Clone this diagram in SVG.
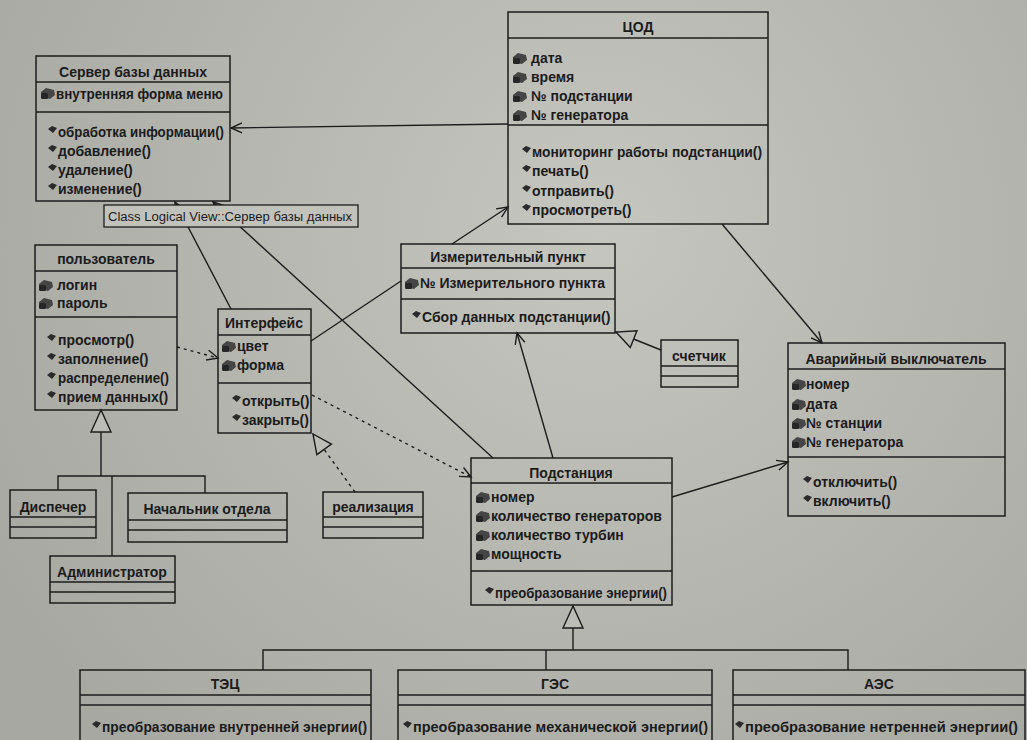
<svg xmlns="http://www.w3.org/2000/svg" xmlns:xlink="http://www.w3.org/1999/xlink" width="1027" height="740" viewBox="0 0 1027 740">
<style>
.bg{fill:url(#bgg)}
.b{fill:none;stroke:#1c1c1c;stroke-width:1.5}
.s{stroke:#1c1c1c;stroke-width:1.5}
.t{font-family:"Liberation Sans",Arial,sans-serif;font-size:14px;font-weight:bold;fill:#1b1b1b}
.c{text-anchor:middle}
.ln{fill:none;stroke:#1c1c1c;stroke-width:1.4}
.d{stroke-dasharray:3 4}
.lab{font-family:"Liberation Sans",Arial,sans-serif;font-size:12.5px;fill:#1b1b1b}
</style>
<defs>
<radialGradient id="bgg" cx="600" cy="230" r="700" gradientUnits="userSpaceOnUse">
<stop offset="0" stop-color="#c6c6c1"/>
<stop offset="1" stop-color="#a8a8a3"/>
</radialGradient>
<g id="ai"><polygon points="0,5 5,1 13,3 14,8 9,12 0,10" fill="#454545"/><rect x="0" y="6" width="7" height="6" rx="1.5" fill="#262626"/></g>
<g id="mi"><polygon points="0,3 4,0 9,2 5,7" fill="#2a2a2a"/></g>
<marker id="open" markerUnits="userSpaceOnUse" markerWidth="14" markerHeight="14" refX="12" refY="6" orient="auto" viewBox="0 0 14 12"><path d="M1,1 L12,6 L1,11" fill="none" stroke="#1c1c1c" stroke-width="1.4"/></marker>
<marker id="opens" markerUnits="userSpaceOnUse" markerWidth="14" markerHeight="14" refX="2" refY="6" orient="auto" viewBox="0 0 14 12"><path d="M13,1 L2,6 L13,11" fill="none" stroke="#1c1c1c" stroke-width="1.4"/></marker>
<marker id="tri" markerUnits="userSpaceOnUse" markerWidth="22" markerHeight="22" refX="20" refY="10" orient="auto" viewBox="0 0 22 20"><path d="M1,1 L20,10 L1,19 Z" fill="#bdbdb8" stroke="#1c1c1c" stroke-width="1.4"/></marker>
</defs>
<rect class="bg" x="0" y="0" width="1027" height="740"/>

<g id="connectors">
<line class="ln" x1="508" y1="124" x2="231" y2="128" marker-end="url(#open)"/>
<line class="ln" x1="175" y1="202" x2="231" y2="309" marker-start="url(#opens)"/>
<line class="ln" x1="213" y1="202" x2="493" y2="458" marker-start="url(#opens)"/>
<line class="ln d" x1="177" y1="347" x2="218" y2="358" marker-end="url(#open)"/>
<line class="ln d" x1="312" y1="395" x2="471" y2="477" marker-end="url(#open)"/>
<line class="ln d" x1="355" y1="492" x2="313" y2="434" marker-end="url(#tri)"/>
<line class="ln" x1="311" y1="341" x2="401" y2="281"/>
<line class="ln" x1="452" y1="244" x2="508" y2="207" marker-end="url(#open)"/>
<line class="ln" x1="722" y1="224" x2="822" y2="343" marker-end="url(#open)"/>
<line class="ln" x1="672" y1="497" x2="788" y2="462" marker-end="url(#open)"/>
<line class="ln" x1="553" y1="458" x2="517" y2="333" marker-end="url(#open)"/>
<line class="ln" x1="661" y1="350" x2="616" y2="332" marker-end="url(#tri)"/>
<path class="ln" d="M101,432 V476 M58,490 V476 H205 V493 M112,476 V556"/>
<polygon points="101,410 91,432 111,432" fill="#bdbdb8" stroke="#1c1c1c" stroke-width="1.4"/>
<path class="ln" d="M573,628 V650 M263,670 V650 H848 V670 M546,650 V670"/>
<polygon points="573,606 563,628 583,628" fill="#bdbdb8" stroke="#1c1c1c" stroke-width="1.4"/>
</g>

<g id="label">
<rect x="104" y="205" width="254" height="22" fill="#c2c2bd" stroke="#1c1c1c" stroke-width="1.3"/>
<text class="lab" x="108" y="221" textLength="244" lengthAdjust="spacingAndGlyphs">Class Logical View::Сервер базы данных</text>
</g>

<g id="server">
<rect class="b" x="36" y="56" width="194" height="145"/>
<path class="s" d="M36,82 H230 M36,112 H230"/>
<text class="t c" x="133" y="77">Сервер базы данных</text>
<use xlink:href="#ai" x="41" y="87"/>
<text class="t" x="56" y="99" textLength="167" lengthAdjust="spacingAndGlyphs">внутренняя форма меню</text>
<use xlink:href="#mi" x="48" y="126"/><text class="t" x="58" y="137" textLength="166" lengthAdjust="spacingAndGlyphs">обработка информации()</text>
<use xlink:href="#mi" x="48" y="145"/><text class="t" x="58" y="156">добавление()</text>
<use xlink:href="#mi" x="48" y="164"/><text class="t" x="58" y="175">удаление()</text>
<use xlink:href="#mi" x="48" y="183"/><text class="t" x="58" y="194">изменение()</text>
</g>

<g id="cod">
<rect class="b" x="508" y="12" width="260" height="212"/>
<path class="s" d="M508,38 H768 M508,125 H768"/>
<text class="t c" x="638" y="32">ЦОД</text>
<use xlink:href="#ai" x="513" y="52"/><text class="t" x="531" y="63">дата</text>
<use xlink:href="#ai" x="513" y="71"/><text class="t" x="531" y="82">время</text>
<use xlink:href="#ai" x="513" y="90"/><text class="t" x="531" y="101">№ подстанции</text>
<use xlink:href="#ai" x="513" y="109"/><text class="t" x="531" y="120">№ генератора</text>
<use xlink:href="#mi" x="522" y="146"/><text class="t" x="532" y="157" textLength="230" lengthAdjust="spacingAndGlyphs">мониторинг работы подстанции()</text>
<use xlink:href="#mi" x="522" y="165"/><text class="t" x="532" y="176">печать()</text>
<use xlink:href="#mi" x="522" y="185"/><text class="t" x="532" y="196">отправить()</text>
<use xlink:href="#mi" x="522" y="204"/><text class="t" x="532" y="215">просмотреть()</text>
</g>

<g id="user">
<rect class="b" x="35" y="245" width="142" height="165"/>
<path class="s" d="M35,271 H177 M35,317 H177"/>
<text class="t c" x="106" y="264">пользователь</text>
<use xlink:href="#ai" x="39" y="279"/><text class="t" x="57" y="290">логин</text>
<use xlink:href="#ai" x="39" y="297"/><text class="t" x="57" y="308">пароль</text>
<use xlink:href="#mi" x="47" y="334"/><text class="t" x="58" y="345">просмотр()</text>
<use xlink:href="#mi" x="47" y="353"/><text class="t" x="58" y="364">заполнение()</text>
<use xlink:href="#mi" x="47" y="372"/><text class="t" x="58" y="383" textLength="111" lengthAdjust="spacingAndGlyphs">распределение()</text>
<use xlink:href="#mi" x="47" y="391"/><text class="t" x="58" y="402">прием данных()</text>
</g>

<g id="interface">
<rect class="b" x="218" y="309" width="93" height="124"/>
<path class="s" d="M218,335 H311 M218,383 H311"/>
<text class="t c" x="264" y="328">Интерфейс</text>
<use xlink:href="#ai" x="222" y="340"/><text class="t" x="237" y="351">цвет</text>
<use xlink:href="#ai" x="222" y="359"/><text class="t" x="237" y="370">форма</text>
<use xlink:href="#mi" x="232" y="395"/><text class="t" x="242" y="406">открыть()</text>
<use xlink:href="#mi" x="232" y="414"/><text class="t" x="242" y="425">закрыть()</text>
</g>

<g id="izm">
<rect class="b" x="401" y="244" width="214" height="89"/>
<path class="s" d="M401,268 H615 M401,299 H615"/>
<text class="t c" x="508" y="262">Измерительный пункт</text>
<use xlink:href="#ai" x="405" y="277"/><text class="t" x="420" y="288">№ Измерительного пункта</text>
<use xlink:href="#mi" x="412" y="311"/><text class="t" x="422" y="322">Сбор данных подстанции()</text>
</g>

<g id="counter">
<rect class="b" x="661" y="340" width="77" height="47"/>
<path class="s" d="M661,366 H738 M661,376 H738"/>
<text class="t c" x="699" y="361">счетчик</text>
</g>

<g id="breaker">
<rect class="b" x="788" y="343" width="217" height="173"/>
<path class="s" d="M788,369 H1005 M788,457 H1005"/>
<text class="t c" x="896" y="364">Аварийный выключатель</text>
<use xlink:href="#ai" x="792" y="378"/><text class="t" x="806" y="389">номер</text>
<use xlink:href="#ai" x="792" y="398"/><text class="t" x="806" y="409">дата</text>
<use xlink:href="#ai" x="792" y="417"/><text class="t" x="806" y="428">№ станции</text>
<use xlink:href="#ai" x="792" y="436"/><text class="t" x="806" y="447">№ генератора</text>
<use xlink:href="#mi" x="803" y="476"/><text class="t" x="813" y="487">отключить()</text>
<use xlink:href="#mi" x="803" y="495"/><text class="t" x="813" y="506">включить()</text>
</g>

<g id="substation">
<rect class="b" x="471" y="458" width="201" height="147"/>
<path class="s" d="M471,483 H672 M471,571 H672"/>
<text class="t c" x="571" y="478">Подстанция</text>
<use xlink:href="#ai" x="476" y="491"/><text class="t" x="491" y="502">номер</text>
<use xlink:href="#ai" x="476" y="510"/><text class="t" x="491" y="521">количество генераторов</text>
<use xlink:href="#ai" x="476" y="529"/><text class="t" x="491" y="540">количество турбин</text>
<use xlink:href="#ai" x="476" y="548"/><text class="t" x="491" y="559">мощность</text>
<use xlink:href="#mi" x="485" y="587"/><text class="t" x="495" y="598" textLength="172" lengthAdjust="spacingAndGlyphs">преобразование энергии()</text>
</g>

<g id="realization">
<rect class="b" x="323" y="492" width="100" height="46"/>
<path class="s" d="M323,517 H423 M323,527 H423"/>
<text class="t c" x="373" y="512">реализация</text>
</g>

<g id="dispatcher">
<rect class="b" x="10" y="490" width="86" height="48"/>
<path class="s" d="M10,517 H96 M10,527 H96"/>
<text class="t c" x="53" y="512">Диспечер</text>
</g>

<g id="chief">
<rect class="b" x="128" y="493" width="159" height="49"/>
<path class="s" d="M128,520 H287 M128,530 H287"/>
<text class="t c" x="207" y="514">Начальник отдела</text>
</g>

<g id="admin">
<rect class="b" x="50" y="556" width="125" height="47"/>
<path class="s" d="M50,582 H175 M50,592 H175"/>
<text class="t c" x="112" y="577">Администратор</text>
</g>

<g id="tec">
<rect class="b" x="80" y="670" width="291" height="80"/>
<path class="s" d="M80,695 H371 M80,705 H371"/>
<text class="t c" x="225" y="689">ТЭЦ</text>
<use xlink:href="#mi" x="92" y="721"/><text class="t" x="102" y="732" textLength="265" lengthAdjust="spacingAndGlyphs">преобразование внутренней энергии()</text>
</g>

<g id="ges">
<rect class="b" x="398" y="670" width="314" height="80"/>
<path class="s" d="M398,695 H712 M398,705 H712"/>
<text class="t c" x="555" y="689">ГЭС</text>
<use xlink:href="#mi" x="403" y="721"/><text class="t" x="413" y="732" textLength="295" lengthAdjust="spacingAndGlyphs">преобразование механической энергии()</text>
</g>

<g id="aes">
<rect class="b" x="733" y="670" width="292" height="80"/>
<path class="s" d="M733,695 H1025 M733,705 H1025"/>
<text class="t c" x="879" y="689">АЭС</text>
<use xlink:href="#mi" x="735" y="721"/><text class="t" x="745" y="732" textLength="273" lengthAdjust="spacingAndGlyphs">преобразование нетренней энергии()</text>
</g>
</svg>
